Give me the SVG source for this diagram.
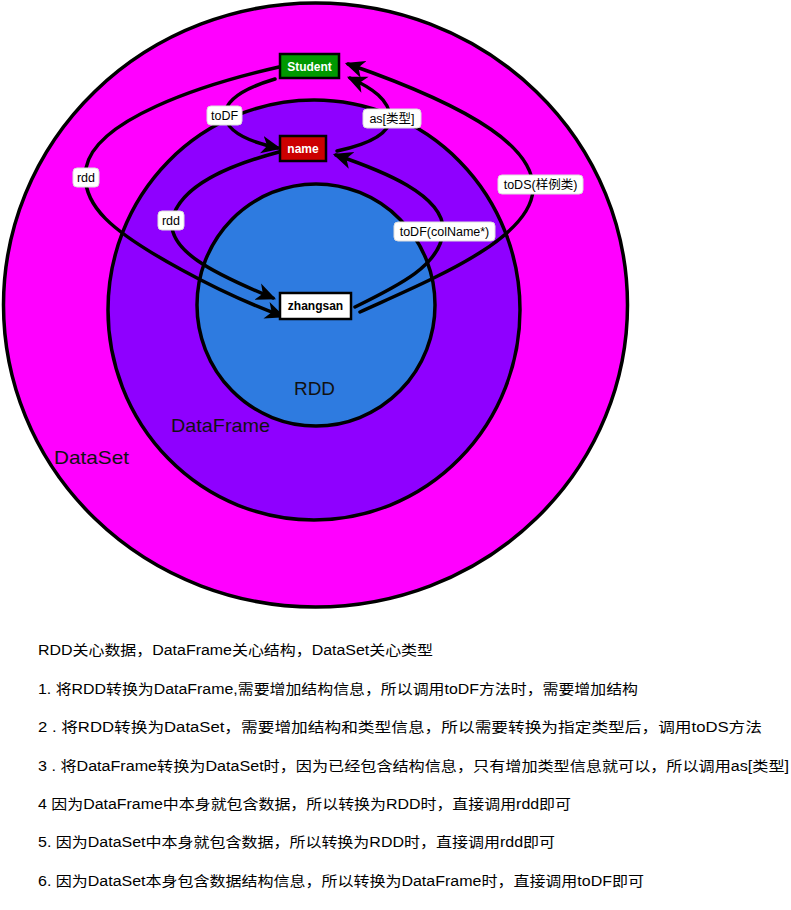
<svg xmlns="http://www.w3.org/2000/svg" width="791" height="910" viewBox="0 0 791 910">
<defs>
<style>
text{font-family:"Liberation Sans","Noto Sans CJK SC",sans-serif;}
.ring{stroke:#000;stroke-width:3.5;}
.conn{fill:none;stroke:#000;stroke-width:3.5;stroke-linecap:round;}
.lbl rect{fill:#fff;stroke:#ddd;stroke-width:1;}
.lbl text{font-size:12.5px;fill:#000;text-anchor:middle;}
.node rect{stroke:#000;stroke-width:2.5;}
.node text{font-size:12px;font-weight:bold;text-anchor:middle;}
.big{font-size:19px;fill:#111;}
.note{font-size:14px;fill:#000;}
</style>
<marker id="arr" markerUnits="userSpaceOnUse" markerWidth="22" markerHeight="22" refX="15" refY="9" orient="auto" viewBox="0 0 20 18">
<path d="M0,1 L18,9 L0,17 L5,9 Z" fill="#000"/>
</marker>
</defs>
<rect width="791" height="910" fill="#fff"/>
<g id="dataset"><ellipse class="ring" cx="315.5" cy="305" rx="312" ry="302" fill="#FF00FF"/></g>
<g id="dataframe"><ellipse class="ring" cx="314" cy="310" rx="206" ry="210" fill="#8F00FF"/></g>
<g id="rdd"><ellipse class="ring" cx="316" cy="305" rx="119" ry="121" fill="#2E7BE0"/></g>
<text class="big" x="294" y="395" textLength="41" lengthAdjust="spacingAndGlyphs">RDD</text>
<text class="big" x="171" y="432" textLength="99" lengthAdjust="spacingAndGlyphs">DataFrame</text>
<text class="big" x="54" y="464" textLength="75" lengthAdjust="spacingAndGlyphs">DataSet</text>
<g id="connectors">
<path class="conn" marker-end="url(#arr)" d="M279 67 C200 85,95 120,86 168 C80 205,112 232,182 270 C222 292,255 306,282 316"/>
<path class="conn" marker-end="url(#arr)" d="M279 152 C230 165,180 185,172 220 C168 250,210 272,273 298"/>
<path class="conn" marker-end="url(#arr)" d="M275 79 C245 88,225 100,225 115 C226 132,250 142,278 148"/>
<path class="conn" marker-end="url(#arr)" d="M337 151 C365 145,390 135,390 118 C390 100,372 88,350 78"/>
<path class="conn" marker-end="url(#arr)" d="M355 307 C400 285,440 265,443 232 C446 195,380 170,336 155"/>
<path class="conn" marker-end="url(#arr)" d="M360 312 C430 280,530 240,533 190 C535 150,480 110,348 64"/>
</g>
<g id="lbl-todf" class="lbl"><rect x="207" y="106" width="35" height="19" rx="4"/><text x="224.5" y="120">toDF</text></g>
<g id="lbl-as" class="lbl"><rect x="363" y="109" width="58" height="19" rx="4"/><text x="392" y="123">as[类型]</text></g>
<g id="lbl-rdd1" class="lbl"><rect x="73" y="168" width="26" height="19" rx="4"/><text x="86" y="182">rdd</text></g>
<g id="lbl-rdd2" class="lbl"><rect x="158" y="211" width="26" height="19" rx="4"/><text x="171" y="225">rdd</text></g>
<g id="lbl-tods" class="lbl"><rect x="498" y="175" width="85" height="19" rx="4"/><text x="540.5" y="189">toDS(样例类)</text></g>
<g id="lbl-todfcol" class="lbl"><rect x="394" y="222" width="101" height="19" rx="4"/><text x="444.5" y="236">toDF(colName*)</text></g>
<g id="student" class="node"><rect x="280" y="54" width="59" height="24" fill="#009900"/><text x="309.5" y="71" fill="#fff">Student</text></g>
<g id="name" class="node"><rect x="280" y="136" width="46" height="25" fill="#CC0000"/><text x="303" y="153" fill="#fff">name</text></g>
<g id="zhangsan" class="node"><rect x="280" y="293" width="71" height="26" fill="#fff"/><text x="315.5" y="310" fill="#000">zhangsan</text></g>
<g id="notes">
<text class="note" x="38" y="655" textLength="395" lengthAdjust="spacingAndGlyphs">RDD关心数据，DataFrame关心结构，DataSet关心类型</text>
<text class="note" x="38" y="694" textLength="600" lengthAdjust="spacingAndGlyphs">1. 将RDD转换为DataFrame,需要增加结构信息，所以调用toDF方法时，需要增加结构</text>
<text class="note" x="38" y="732" textLength="724" lengthAdjust="spacingAndGlyphs">2 . 将RDD转换为DataSet，需要增加结构和类型信息，所以需要转换为指定类型后，调用toDS方法</text>
<text class="note" x="38" y="771" textLength="751" lengthAdjust="spacingAndGlyphs">3 . 将DataFrame转换为DataSet时，因为已经包含结构信息，只有增加类型信息就可以，所以调用as[类型]</text>
<text class="note" x="38" y="809" textLength="533" lengthAdjust="spacingAndGlyphs">4 因为DataFrame中本身就包含数据，所以转换为RDD时，直接调用rdd即可</text>
<text class="note" x="38" y="847" textLength="517" lengthAdjust="spacingAndGlyphs">5. 因为DataSet中本身就包含数据，所以转换为RDD时，直接调用rdd即可</text>
<text class="note" x="38" y="886" textLength="606" lengthAdjust="spacingAndGlyphs">6. 因为DataSet本身包含数据结构信息，所以转换为DataFrame时，直接调用toDF即可</text>
</g>
</svg>
